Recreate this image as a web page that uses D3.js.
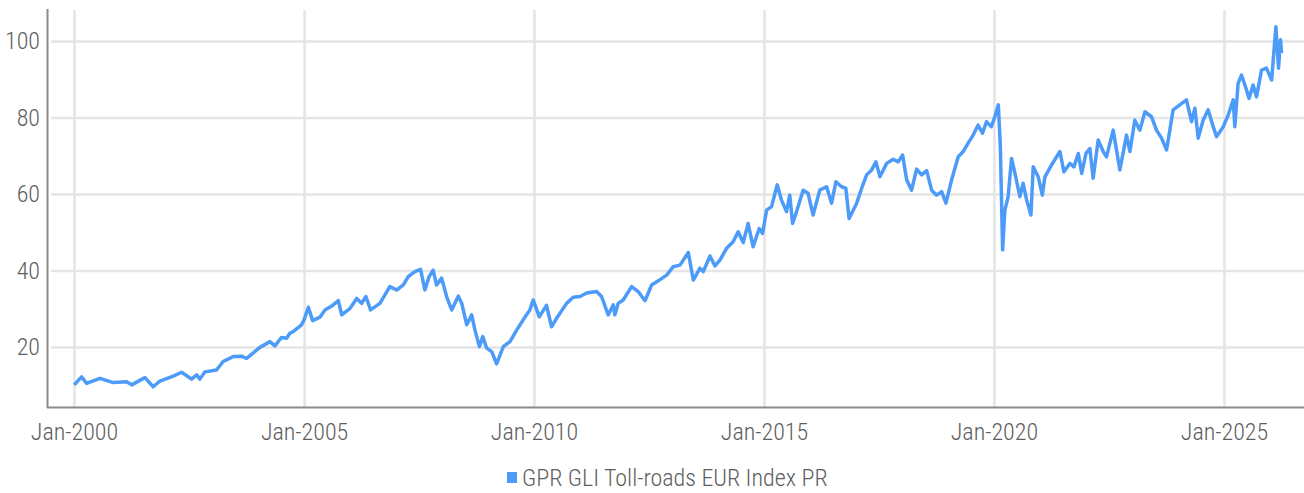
<!DOCTYPE html>
<html>
<head>
<meta charset="utf-8">
<script src="https://cdn.jsdelivr.net/npm/d3@7"></script>
<style>
  body { margin: 0; background: #fff; }
  svg { display: block; }
  .tick text, .legend text {
    fill: #5e5e5e;
    font-family: "Roboto Condensed", "Liberation Sans Narrow", Roboto, sans-serif;
    font-size: 24px;
    font-weight: 300;
  }
</style>
</head>
<body>
<svg></svg>
<script>
  // series (date, index level)
  let dates = [
    "2000-01-03","2000-03-01","2000-04-10","2000-07-25","2000-11-08",
    "2001-02-22","2001-04-03","2001-07-17","2001-09-21","2001-11-13",
    "2002-02-27","2002-05-05","2002-07-23","2002-09-01","2002-09-27","2002-11-05",
    "2003-02-06","2003-03-30","2003-06-18","2003-08-24","2003-10-02",
    "2004-01-16","2004-04-05","2004-05-14","2004-07-06","2004-08-15","2004-09-10","2004-10-06","2004-12-12",
    "2005-01-01","2005-02-04","2005-03-10","2005-05-07","2005-06-16","2005-08-08","2005-09-30","2005-10-27",
    "2006-01-01","2006-02-23","2006-04-03","2006-05-07","2006-06-13","2006-08-26","2006-11-13",
    "2007-01-06","2007-02-27","2007-04-08","2007-05-31","2007-07-15","2007-08-18","2007-09-21","2007-10-23","2007-11-19","2007-12-29",
    "2008-02-07","2008-03-18","2008-05-10","2008-06-06","2008-07-16","2008-08-24","2008-09-19","2008-10-24","2008-11-20","2008-12-21",
    "2009-01-30","2009-03-10","2009-05-02","2009-06-24","2009-08-16","2009-10-07","2009-11-29","2009-12-25",
    "2010-02-12","2010-04-10","2010-05-20","2010-06-29","2010-09-17","2010-11-08",
    "2011-01-01","2011-02-23","2011-05-13","2011-06-21","2011-08-13","2011-09-22","2011-10-05","2011-10-31","2011-12-10",
    "2012-02-15","2012-04-07","2012-05-31","2012-07-23","2012-09-13","2012-11-19",
    "2013-01-11","2013-03-05","2013-05-10","2013-06-19","2013-08-11","2013-09-06","2013-10-29","2013-12-08",
    "2014-01-16","2014-03-10","2014-05-01","2014-06-10","2014-07-20","2014-08-28","2014-10-07","2014-11-24","2014-12-21",
    "2015-01-22","2015-03-02","2015-04-16","2015-05-20","2015-06-29","2015-07-25","2015-08-16","2015-09-17","2015-11-08","2015-12-17",
    "2016-01-26","2016-03-19","2016-05-12","2016-06-21","2016-07-25","2016-09-08","2016-10-12","2016-11-07",
    "2017-01-06","2017-02-15","2017-03-26","2017-05-05","2017-06-08","2017-07-10","2017-09-01","2017-10-23","2017-12-02",
    "2018-01-06","2018-02-07","2018-03-18","2018-04-27","2018-06-06","2018-07-16","2018-08-24","2018-10-03","2018-11-12","2018-12-16",
    "2019-01-30","2019-03-23","2019-05-02","2019-06-10","2019-07-20","2019-08-28","2019-10-02","2019-11-03","2019-12-12",
    "2020-01-08","2020-02-05","2020-02-21","2020-03-10","2020-03-28","2020-04-23","2020-05-20","2020-06-16","2020-07-25","2020-08-20","2020-09-17","2020-10-21","2020-11-08","2020-12-18",
    "2021-01-19","2021-02-09","2021-04-03","2021-06-08","2021-07-10","2021-08-26","2021-09-27","2021-11-01","2021-11-28",
    "2022-01-01","2022-02-01","2022-02-27","2022-04-08","2022-05-18","2022-06-13","2022-08-05","2022-09-27","2022-11-19","2022-12-16",
    "2023-01-24","2023-03-05","2023-04-14","2023-06-05","2023-07-15","2023-08-24","2023-10-03","2023-11-24",
    "2024-01-16","2024-03-09","2024-04-18","2024-05-15","2024-06-10","2024-07-19","2024-08-28","2024-10-07","2024-11-03","2024-12-26",
    "2025-02-04","2025-03-15","2025-03-28","2025-04-23","2025-05-20","2025-06-29","2025-07-19","2025-08-20","2025-09-16","2025-10-26","2025-12-04",
    "2026-01-14","2026-01-27","2026-02-17","2026-03-10","2026-03-26","2026-04-03"
  ];
  let values = [
    10.1,12.2,10.5,11.8,10.7,
    10.9,10.1,12.0,9.6,11.1,
    12.4,13.4,11.6,12.7,11.6,13.5,
    14.0,16.2,17.5,17.6,17.0,
    19.9,21.4,20.3,22.5,22.3,23.6,24.0,25.8,
    27.1,30.4,26.9,27.8,29.7,30.7,32.1,28.4,
    30.1,32.7,31.4,33.2,29.7,31.4,35.8,
    34.9,36.2,38.4,39.7,40.3,34.9,38.4,40.1,36.2,38.0,
    33.2,29.7,33.3,31.4,25.8,28.4,24.4,20.1,22.7,19.7,
    18.8,15.6,20.1,21.4,24.4,27.1,29.7,32.3,
    27.9,30.9,25.3,27.5,31.4,33.0,
    33.2,34.1,34.5,33.2,28.4,31.0,28.4,31.4,32.3,
    35.8,34.5,32.1,36.2,37.3,38.8,
    41.0,41.4,44.7,37.5,40.6,39.7,43.8,41.2,
    42.7,45.8,47.5,50.1,47.3,52.3,46.2,51.0,49.7,
    55.8,56.7,62.4,58.4,55.4,59.7,52.3,55.4,61.0,60.2,
    54.5,61.0,61.9,57.6,63.2,61.9,61.5,53.6,
    57.6,61.5,65.0,66.3,68.4,64.5,68.0,69.1,68.4,
    70.2,63.7,61.0,66.5,65.0,66.1,61.0,59.7,60.6,57.6,
    63.7,69.7,71.1,73.3,75.4,78.0,75.9,78.9,77.6,
    80.2,83.3,72.4,45.4,55.8,59.3,69.3,65.4,59.3,62.8,58.4,54.5,67.1,64.5,
    59.7,64.5,67.6,71.1,65.8,68.0,67.1,70.6,65.4,
    70.6,71.9,64.1,74.1,71.1,69.7,76.7,66.3,75.4,71.1,
    79.3,76.7,81.5,80.2,76.7,74.6,71.5,82.0,
    83.3,84.6,78.9,82.4,74.6,79.3,82.0,77.6,75.0,77.6,
    80.7,84.6,77.6,88.9,91.1,87.2,85.0,88.5,85.4,92.4,92.9,
    89.8,95.0,103.7,92.9,100.3,96.8
  ];
  let yTicks = [20, 40, 60, 80, 100];
  let xTicks = ["2000-01-01","2005-01-01","2010-01-01","2015-01-01","2020-01-01","2025-01-01"];
  let seriesName = "GPR GLI Toll-roads EUR Index PR";

  let width = 1304, height = 493;
  let svg = d3.select("svg").attr("width", width).attr("height", height);
  let parse = d3.timeParse("%Y-%m-%d");
  let fmt = d3.timeFormat("%b-%Y");

  let data = dates.map((d, i) => ({date: parse(d), value: values[i]}));

  let x = d3.scaleTime()
    .domain([parse("2000-01-01"), parse("2025-01-01")])
    .range([74, 1224]);
  let y = d3.scaleLinear().domain([0, 100]).range([423.5, 41]);

  let plot = {left: 48, right: 1304, top: 9, bottom: 407};

  // vertical grid
  svg.append("g")
    .attr("transform", "translate(0," + plot.bottom + ")")
    .call(d3.axisBottom(x).tickValues(xTicks.map(parse)).tickSize(-(plot.bottom - 10)).tickFormat(""))
    .call(g => g.select(".domain").remove())
    .selectAll("line").attr("stroke", "#e5e5e5").attr("stroke-width", 2.5);

  // horizontal grid
  svg.append("g")
    .attr("transform", "translate(51,0)")
    .call(d3.axisLeft(y).tickValues(yTicks).tickSize(-(plot.right - 51)).tickFormat(""))
    .call(g => g.select(".domain").remove())
    .selectAll("line").attr("stroke", "#e5e5e5").attr("stroke-width", 2.5);

  // line
  let line = d3.line().x(d => x(d.date)).y(d => y(d.value));
  svg.append("path")
    .datum(data)
    .attr("d", line)
    .attr("fill", "none")
    .attr("stroke", "#4d9bf8")
    .attr("stroke-width", 3.5)
    .attr("stroke-linejoin", "round");

  // axes
  let yAxis = svg.append("g")
    .attr("transform", "translate(" + plot.left + ",0)")
    .call(d3.axisLeft(y).tickValues(yTicks).tickSize(0).tickPadding(8));
  yAxis.select(".domain").remove();
  svg.append("line")
    .attr("x1", 47.5).attr("x2", 47.5).attr("y1", plot.top).attr("y2", plot.bottom + 1)
    .attr("stroke", "#8a8a8a").attr("stroke-width", 2);

  let xAxis = svg.append("g")
    .attr("transform", "translate(0," + plot.bottom + ")")
    .call(d3.axisBottom(x).tickValues(xTicks.map(parse)).tickSize(0).tickPadding(16).tickFormat(fmt));
  xAxis.select(".domain").remove();
  svg.append("line")
    .attr("x1", 47).attr("x2", plot.right).attr("y1", plot.bottom + 0.5).attr("y2", plot.bottom + 0.5)
    .attr("stroke", "#8a8a8a").attr("stroke-width", 2);

  // legend
  let legend = svg.append("g").attr("class", "legend");
  legend.append("rect")
    .attr("x", 507).attr("y", 472).attr("width", 10).attr("height", 11)
    .attr("fill", "#4d9bf8");
  legend.append("text")
    .attr("x", 522).attr("y", 486)
    .text(seriesName);
</script>
</body>
</html>
